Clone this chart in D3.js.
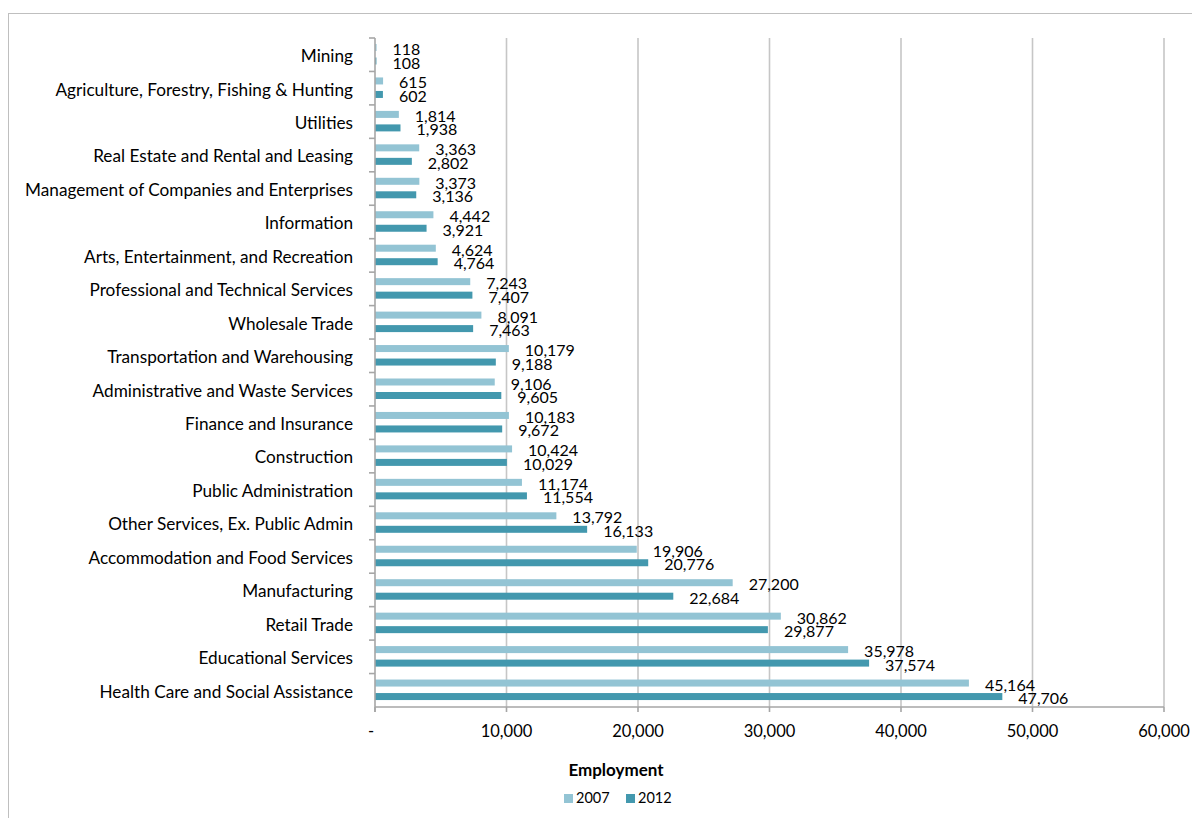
<!DOCTYPE html>
<html>
<head>
<meta charset="utf-8">
<script src="https://cdn.jsdelivr.net/npm/d3@7"></script>
<style>
  body { margin: 0; background: #fff; }
  svg text { font-family: Lato, "Open Sans", sans-serif; fill: #000; }
</style>
</head>
<body>
<div id="chart"></div>
<script>
/* data */
var industries = ["Mining", "Agriculture, Forestry, Fishing & Hunting", "Utilities",
  "Real Estate and Rental and Leasing", "Management of Companies and Enterprises",
  "Information", "Arts, Entertainment, and Recreation", "Professional and Technical Services",
  "Wholesale Trade", "Transportation and Warehousing", "Administrative and Waste Services",
  "Finance and Insurance", "Construction", "Public Administration",
  "Other Services, Ex. Public Admin", "Accommodation and Food Services", "Manufacturing",
  "Retail Trade", "Educational Services", "Health Care and Social Assistance"];
var emp2007 = [118, 615, 1814, 3363, 3373, 4442, 4624, 7243, 8091, 10179, 9106, 10183,
  10424, 11174, 13792, 19906, 27200, 30862, 35978, 45164];
var emp2012 = [108, 602, 1938, 2802, 3136, 3921, 4764, 7407, 7463, 9188, 9605, 9672,
  10029, 11554, 16133, 20776, 22684, 29877, 37574, 47706];
var years = ["2007", "2012"];
var tickValues = [0, 10000, 20000, 30000, 40000, 50000, 60000];

/* constants */
var chartWidth = 1192, chartHeight = 818;
var colors = ["#93c4d4", "#4398ae"];
var plotLeft = 375, plotRight = 1164, plotTop = 38, plotBottom = 707;

var svg = d3.select("#chart").append("svg")
  .attr("width", chartWidth)
  .attr("height", chartHeight);

// outer chart border
svg.append("rect")
  .attr("x", 8.5).attr("y", 13.5)
  .attr("width", 1200).attr("height", 900)
  .attr("fill", "none").attr("stroke", "#bfbfbf").attr("stroke-width", 1);

var x = d3.scaleLinear().domain([0, 60000]).range([plotLeft, plotRight]);
var y = d3.scaleBand().domain(industries).range([plotTop, plotBottom]);
var bh = 7;
var offsets = [6, 19.5];

// gridlines
svg.append("g").selectAll("line")
  .data(tickValues.slice(1))
  .enter().append("line")
  .attr("x1", function(d){ return x(d); })
  .attr("x2", function(d){ return x(d); })
  .attr("y1", plotTop).attr("y2", plotBottom)
  .attr("stroke", "#c6c6c6").attr("stroke-width", 1.6);

// bars and labels per series
[emp2007, emp2012].forEach(function(series, s){
  var g = svg.append("g");
  g.selectAll("rect")
    .data(series)
    .enter().append("rect")
    .attr("x", plotLeft)
    .attr("y", function(d, i){ return y(industries[i]) + offsets[s]; })
    .attr("width", function(d){ return x(d) - plotLeft; })
    .attr("height", bh)
    .attr("fill", colors[s]);
  g.selectAll("text")
    .data(series)
    .enter().append("text")
    .attr("x", function(d){ return x(d) + 16; })
    .attr("y", function(d, i){ return y(industries[i]) + offsets[s] + bh / 2 + 3.5; })
    .attr("dominant-baseline", "middle")
    .style("font-size", "16px")
    .text(function(d){ return d3.format(",")(d); });
});

// y axis
var yAxis = svg.append("g");
yAxis.append("line")
  .attr("x1", plotLeft).attr("x2", plotLeft).attr("y1", plotTop).attr("y2", plotBottom + 5)
  .attr("stroke", "#a6a6a6").attr("stroke-width", 1.6);
yAxis.selectAll("line.tick")
  .data(industries)
  .enter().append("line")
  .attr("class", "tick")
  .attr("x1", plotLeft - 6).attr("x2", plotLeft)
  .attr("y1", function(d){ return y(d); })
  .attr("y2", function(d){ return y(d); })
  .attr("stroke", "#a6a6a6").attr("stroke-width", 1.6);
yAxis.selectAll("text")
  .data(industries)
  .enter().append("text")
  .attr("x", 353)
  .attr("y", function(d){ return y(d) + y.bandwidth() / 2 + 3; })
  .attr("text-anchor", "end")
  .attr("dominant-baseline", "middle")
  .style("font-size", "17.2px")
  .text(function(d){ return d; });

// x axis
var xAxis = svg.append("g");
xAxis.append("line")
  .attr("x1", plotLeft).attr("x2", plotRight).attr("y1", plotBottom).attr("y2", plotBottom)
  .attr("stroke", "#a6a6a6").attr("stroke-width", 1.6);
xAxis.selectAll("line.tick")
  .data(tickValues)
  .enter().append("line")
  .attr("class", "tick")
  .attr("x1", function(d){ return x(d); })
  .attr("x2", function(d){ return x(d); })
  .attr("y1", plotBottom).attr("y2", plotBottom + 5)
  .attr("stroke", "#a6a6a6").attr("stroke-width", 1.6);
xAxis.selectAll("text")
  .data(tickValues)
  .enter().append("text")
  .attr("x", function(d){ return d === 0 ? x(d) - 4 : x(d); })
  .attr("y", 733)
  .attr("text-anchor", "middle")
  .attr("dominant-baseline", "middle")
  .style("font-size", "16.5px")
  .text(function(d){ return d === 0 ? "-" : d3.format(",")(d); });

// axis title
svg.append("text")
  .attr("x", 616).attr("y", 772)
  .attr("text-anchor", "middle")
  .attr("dominant-baseline", "middle")
  .style("font-size", "17px").style("font-weight", "bold")
  .text("Employment");

// legend
var legendX = [564, 626];
var legend = svg.append("g").selectAll("g")
  .data(years)
  .enter().append("g")
  .attr("transform", function(d, i){ return "translate(" + legendX[i] + ",794)"; });
legend.append("rect")
  .attr("width", 9).attr("height", 9)
  .attr("fill", function(d, i){ return colors[i]; });
legend.append("text")
  .attr("x", 12).attr("y", 5.5)
  .attr("dominant-baseline", "middle")
  .style("font-size", "14.5px")
  .text(function(d){ return d; });
</script>
</body>
</html>
